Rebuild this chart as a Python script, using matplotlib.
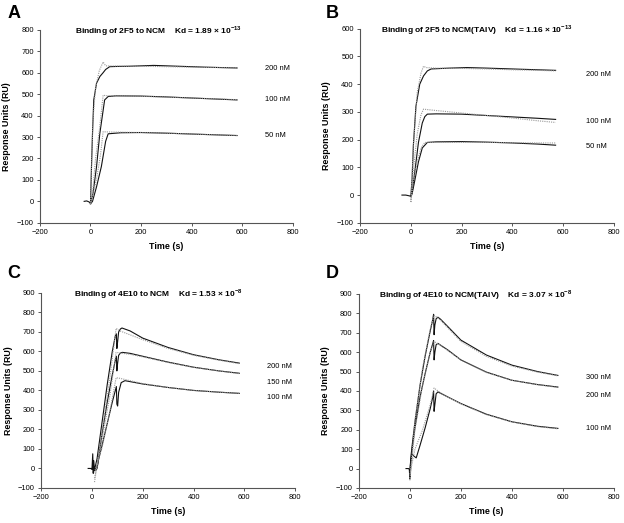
import matplotlib
matplotlib.use("Agg")
import matplotlib.pyplot as plt

plt.rcParams['font.family'] = ['Liberation Sans', 'DejaVu Sans']
plt.rcParams['mathtext.fontset'] = 'custom'
plt.rcParams['mathtext.rm'] = 'Liberation Sans'
plt.rcParams['mathtext.bf'] = 'Liberation Sans:bold'

# ---- Panel A: 2F5 / NCM ----
a_t200 = [-25, -15, -5, 0, 4, 8, 13, 24, 37, 50, 60, 76, 100, 150, 250, 350, 450, 580]
a_y200 = [0, 2, -3, -10, 162, 317, 473, 551, 582, 600, 615, 628, 629, 630, 634, 630, 626, 622]
a_t100 = [0, 10, 24, 37, 56, 70, 100, 200, 300, 400, 500, 580]
a_y100 = [-10, 37, 162, 317, 473, 489, 492, 491, 487, 482, 477, 473]
a_t50 = [0, 8, 24, 43, 60, 70, 120, 200, 300, 400, 500, 580]
a_y50 = [-12, 0, 68, 162, 280, 315, 320, 321, 318, 314, 310, 307]
af_t200 = [0, 5, 10, 20, 35, 50, 60, 100, 200, 300, 400, 500, 580]
af_y200 = [-15, 200, 380, 530, 610, 650, 632, 631, 630, 628, 626, 624, 622]
af_t100 = [0, 10, 20, 35, 50, 60, 100, 200, 300, 400, 500, 580]
af_y100 = [-15, 60, 200, 330, 495, 493, 492, 490, 486, 482, 478, 474]
af_t50 = [0, 10, 25, 40, 50, 60, 100, 200, 300, 400, 500, 580]
af_y50 = [-15, 30, 110, 220, 325, 324, 323, 321, 318, 314, 310, 307]

# ---- Panel B: 2F5 / NCM(TAIV) ----
b_t200 = [-35, -20, -5, 0, 5, 10, 20, 35, 50, 65, 80, 150, 220, 300, 400, 500, 570]
b_y200 = [0, 0, -3, -5, 60, 180, 320, 400, 430, 448, 455, 458, 460, 458, 455, 452, 450]
b_t100 = [0, 5, 15, 30, 45, 55, 65, 100, 200, 300, 400, 500, 570]
b_y100 = [-5, 10, 80, 190, 260, 283, 292, 293, 292, 287, 282, 277, 273]
b_t50 = [0, 5, 15, 30, 45, 55, 65, 100, 200, 300, 400, 500, 570]
b_y50 = [-5, 5, 50, 120, 170, 180, 190, 192, 193, 191, 188, 184, 180]
bf_t200 = [0, 10, 25, 40, 50, 60, 100, 200, 300, 400, 500, 570]
bf_y200 = [-25, 180, 370, 440, 465, 460, 458, 457, 455, 452, 450, 448]
bf_t100 = [0, 10, 25, 40, 50, 100, 200, 300, 400, 500, 570]
bf_y100 = [-25, 90, 220, 290, 310, 305, 296, 287, 278, 268, 262]
bf_t50 = [0, 10, 25, 40, 55, 100, 200, 300, 400, 500, 570]
bf_y50 = [-25, 50, 120, 170, 190, 190, 190, 190, 189, 188, 188]

# ---- Panel C: 4E10 / NCM ----
c_t200 = [-15, -5, 0, 3, 5, 7, 10, 13, 20, 40, 60, 80, 92, 96, 98, 101, 105, 112, 118, 150, 200, 300, 400, 500, 580]
c_y200 = [0, 0, -5, 75, -25, 40, -10, 10, 50, 240, 430, 600, 680, 690, 615, 650, 700, 715, 720, 705, 668, 620, 583, 557, 540]
c_t150 = [0, 10, 15, 22, 40, 60, 80, 92, 96, 98, 101, 105, 112, 120, 150, 200, 300, 400, 500, 580]
c_y150 = [0, 5, 0, 20, 180, 340, 480, 555, 575, 500, 540, 580, 592, 595, 590, 575, 545, 519, 500, 488]
c_t100 = [0, 10, 15, 20, 25, 40, 60, 80, 92, 96, 98, 101, 105, 115, 130, 200, 300, 400, 500, 580]
c_y100 = [0, 0, -10, 0, 40, 120, 230, 340, 400, 420, 330, 320, 390, 440, 450, 433, 415, 400, 391, 385]
cf_t200 = [10, 40, 70, 95, 110, 150, 200, 300, 400, 500, 580]
cf_y200 = [-70, 190, 460, 718, 705, 685, 660, 615, 580, 555, 537]
cf_t150 = [10, 40, 70, 95, 110, 150, 200, 300, 400, 500, 580]
cf_y150 = [-50, 150, 370, 595, 592, 585, 572, 543, 518, 500, 486]
cf_t100 = [10, 40, 70, 95, 110, 150, 200, 300, 400, 500, 580]
cf_y100 = [-20, 110, 290, 465, 462, 450, 435, 415, 400, 391, 385]

# ---- Panel D: 4E10 / NCM(TAIV) ----
d_t300 = [-15, -5, -2, 0, 2, 5, 10, 20, 40, 60, 80, 90, 93, 95, 98, 103, 110, 120, 150, 200, 300, 400, 500, 580]
d_y300 = [0, 0, -5, -50, 20, 70, 130, 240, 430, 580, 710, 770, 795, 690, 740, 772, 780, 770, 730, 662, 585, 533, 500, 480]
d_t200 = [0, 3, 10, 20, 40, 60, 80, 90, 93, 95, 98, 103, 110, 150, 200, 300, 400, 500, 580]
d_y200 = [-40, 30, 110, 210, 370, 490, 600, 645, 660, 560, 600, 638, 645, 610, 560, 497, 455, 433, 420]
d_t100 = [0, 3, 8, 15, 25, 40, 60, 80, 90, 93, 95, 98, 103, 110, 150, 200, 300, 400, 500, 580]
d_y100 = [-50, 30, 75, 65, 55, 120, 210, 310, 370, 400, 295, 330, 385, 395, 368, 335, 280, 241, 218, 207]
df_t300 = [0, 20, 50, 80, 95, 120, 200, 300, 400, 500, 580]
df_y300 = [-60, 250, 520, 720, 790, 765, 655, 578, 528, 497, 478]
df_t200 = [0, 20, 50, 80, 95, 120, 200, 300, 400, 500, 580]
df_y200 = [-60, 200, 430, 600, 655, 635, 560, 495, 455, 432, 418]
df_t100 = [0, 20, 50, 80, 95, 120, 200, 300, 400, 500, 580]
df_y100 = [-30, 100, 200, 330, 415, 390, 333, 278, 240, 216, 205]

panel_letters = ['A', 'B', 'C', 'D']
titles = [
    r'Binding of 2F5 to NCM    Kd = 1.89 × 10$^{\mathbf{-13}}$',
    r'Binding of 2F5 to NCM(TAIV)    Kd = 1.16 × 10$^{\mathbf{-13}}$',
    r'Binding of 4E10 to NCM    Kd = 1.53 × 10$^{\mathbf{-8}}$',
    r'Binding of 4E10 to NCM(TAIV)    Kd = 3.07 × 10$^{\mathbf{-8}}$',
]
conc_labels = [
    ['200 nM', '100 nM', '50 nM'],
    ['200 nM', '100 nM', '50 nM'],
    ['200 nM', '150 nM', '100 nM'],
    ['300 nM', '200 nM', '100 nM'],
]
label_y = [[621, 476, 305], [434, 264, 174], [525, 443, 362], [467, 379, 204]]
y_max = [800, 600, 900, 900]

data = [(a_t200, a_y200), (a_t100, a_y100), (a_t50, a_y50)], \
       [(b_t200, b_y200), (b_t100, b_y100), (b_t50, b_y50)], \
       [(c_t200, c_y200), (c_t150, c_y150), (c_t100, c_y100)], \
       [(d_t300, d_y300), (d_t200, d_y200), (d_t100, d_y100)]
fits = [(af_t200, af_y200), (af_t100, af_y100), (af_t50, af_y50)], \
       [(bf_t200, bf_y200), (bf_t100, bf_y100), (bf_t50, bf_y50)], \
       [(cf_t200, cf_y200), (cf_t150, cf_y150), (cf_t100, cf_y100)], \
       [(df_t300, df_y300), (df_t200, df_y200), (df_t100, df_y100)]

# axes boxes in figure fractions [left, bottom, width, height]
boxes = [
    [0.064, 0.574, 0.405, 0.369],
    [0.577, 0.574, 0.407, 0.371],
    [0.066, 0.067, 0.407, 0.373],
    [0.575, 0.067, 0.409, 0.371],
]
title_x = [0.138, 0.083, 0.13, 0.08]
letter_pos = [(0.012, 0.975), (0.522, 0.975), (0.012, 0.478), (0.522, 0.478)]

fig = plt.figure(figsize=(6.24, 5.23), dpi=100)

for i in range(4):
    ax = fig.add_axes(boxes[i])
    for (ft, fy), (t, y) in zip(fits[i], data[i]):
        ax.plot(ft, fy, color='#999999', lw=0.8, ls=(0, (1, 1)), zorder=3)
        ax.plot(t, y, color='#111111', lw=0.8, zorder=2)
    for lab, ly in zip(conc_labels[i], label_y[i]):
        ax.text(690, ly, lab, fontsize=5.4, ha='left', va='center')
    ax.set_xlim(-200, 800)
    ax.set_ylim(-100, y_max[i])
    ax.set_xticks(range(-200, 801, 200))
    ax.set_yticks(range(-100, y_max[i] + 1, 100))
    for s in ['top', 'right']:
        ax.spines[s].set_visible(False)
    for s in ['left', 'bottom']:
        ax.spines[s].set_linewidth(0.8)
        ax.spines[s].set_color('#555555')
    ax.tick_params(labelsize=5.4, length=2.5, width=0.7, pad=2, color='#555555')
    ax.set_xlabel('Time (s)', fontsize=6.4, fontweight='bold', labelpad=4)
    ax.set_ylabel('Response Units (RU)', fontsize=6.4, fontweight='bold', labelpad=4)
    ax.text(title_x[i], 0.995, titles[i], transform=ax.transAxes,
            fontsize=6.0, fontweight='bold', ha='left', va='center')
    fig.text(letter_pos[i][0], letter_pos[i][1], panel_letters[i],
             fontsize=13, fontweight='bold', ha='left', va='center')

fig.savefig('out.png', dpi=100)
